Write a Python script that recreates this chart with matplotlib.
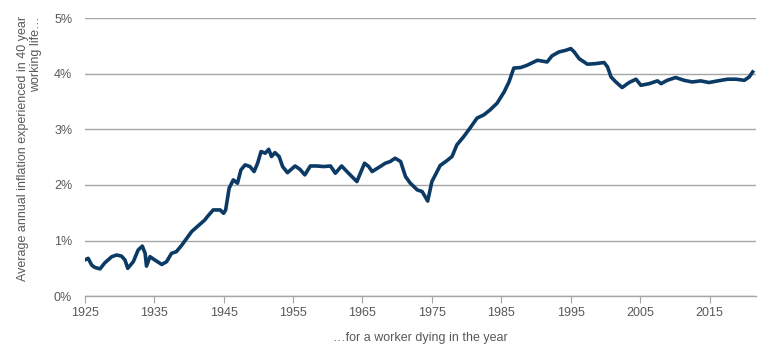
import matplotlib.pyplot as plt
from matplotlib.ticker import FuncFormatter

# values (year of death, avg annual inflation %)
years = [1925.0, 1925.5, 1926.0, 1926.4, 1927.2, 1927.9, 1928.9, 1929.6, 1930.3, 1930.8,
         1931.2, 1932.0, 1932.7, 1933.3, 1933.7, 1933.9, 1934.4, 1935.1, 1936.1, 1936.8,
         1937.5, 1938.2, 1939.0, 1939.7, 1940.4, 1941.3, 1942.3, 1942.6, 1943.5, 1944.5,
         1945.0, 1945.3, 1945.8, 1946.4, 1947.0, 1947.5, 1948.1, 1948.8, 1949.4, 1949.9,
         1950.4, 1951.0, 1951.5, 1951.9, 1952.4, 1953.0, 1953.5, 1954.2, 1955.3, 1956.0,
         1956.7, 1957.5, 1958.4, 1959.4, 1960.4, 1961.1, 1962.0, 1963.0, 1964.2, 1965.3,
         1965.9, 1966.4, 1967.3, 1968.3, 1969.0, 1969.7, 1970.5, 1971.2, 1971.9, 1972.9,
         1973.6, 1974.4, 1975.0, 1975.5, 1976.2, 1977.0, 1977.9, 1978.6, 1979.6, 1980.6,
         1981.5, 1982.5, 1983.4, 1984.4, 1985.4, 1986.1, 1986.8, 1987.8, 1988.7, 1990.2,
         1991.6, 1992.3, 1993.3, 1994.3, 1995.0, 1995.5, 1996.2, 1997.4, 1998.6, 1999.8,
         2000.3, 2000.8, 2001.5, 2002.4, 2003.4, 2004.4, 2005.1, 2006.3, 2007.5, 2008.0,
         2008.9, 2010.1, 2011.3, 2012.5, 2013.7, 2014.9, 2016.2, 2017.6, 2018.8, 2020.0,
         2020.7, 2021.2]
inflation = [0.65, 0.68, 0.56, 0.52, 0.49, 0.60, 0.71, 0.74, 0.72, 0.65,
             0.50, 0.62, 0.83, 0.90, 0.77, 0.54, 0.71, 0.65, 0.57, 0.62,
             0.77, 0.80, 0.92, 1.04, 1.16, 1.26, 1.37, 1.42, 1.55, 1.55,
             1.49, 1.55, 1.94, 2.09, 2.03, 2.27, 2.36, 2.33, 2.24, 2.39,
             2.60, 2.57, 2.64, 2.51, 2.58, 2.51, 2.33, 2.22, 2.34, 2.28,
             2.18, 2.34, 2.34, 2.33, 2.34, 2.21, 2.34, 2.21, 2.06, 2.39,
             2.33, 2.24, 2.31, 2.39, 2.42, 2.48, 2.42, 2.15, 2.03, 1.91,
             1.88, 1.71, 2.06, 2.18, 2.35, 2.42, 2.51, 2.72, 2.87, 3.04,
             3.20, 3.26, 3.35, 3.47, 3.67, 3.85, 4.10, 4.11, 4.15, 4.24,
             4.21, 4.32, 4.39, 4.42, 4.45, 4.39, 4.27, 4.17, 4.18, 4.20,
             4.12, 3.94, 3.85, 3.75, 3.84, 3.90, 3.79, 3.82, 3.87, 3.82,
             3.88, 3.93, 3.88, 3.85, 3.87, 3.84, 3.87, 3.90, 3.90, 3.88,
             3.94, 4.03]
x_ticks = list(range(1925, 2016, 10))
y_ticks = [0, 1, 2, 3, 4, 5]

plt.rcParams['font.family'] = ['Liberation Sans', 'DejaVu Sans']
grey_text = '#595959'
grid_col = '#a6a6a6'

fig = plt.figure(figsize=(7.7, 3.53), dpi=100)
ax = fig.add_axes([0.110, 0.161, 0.872, 0.788])

ax.plot(years, inflation, color='#0b3a64', linewidth=2.6, solid_joinstyle='round')

ax.set_xlim(1925, 2021.7)
ax.set_ylim(0, 5)
ax.set_xticks(x_ticks)
ax.set_yticks(y_ticks)
ax.yaxis.set_major_formatter(FuncFormatter(lambda v, p: f"{v:.0f}%"))

ax.grid(axis='y', color=grid_col, linewidth=1.0)
ax.set_axisbelow(True)
for s in ['left', 'right', 'top']:
    ax.spines[s].set_visible(False)
ax.spines['bottom'].set_color(grid_col)
ax.spines['bottom'].set_linewidth(1.0)

ax.tick_params(axis='x', direction='out', length=5, color=grid_col, labelcolor=grey_text,
               labelsize=9, pad=3)
ax.tick_params(axis='y', length=0, labelcolor=grey_text, labelsize=9, pad=9)

ax.set_ylabel('Average annual inflation experienced in 40 year\nworking life…',
              color=grey_text, fontsize=9, linespacing=1.1, multialignment='right')
ax.yaxis.set_label_coords(-0.064, 0.53)
ax.set_xlabel('…for a worker dying in the year', color=grey_text, fontsize=9, labelpad=9)

fig.savefig('out.png', dpi=100)
